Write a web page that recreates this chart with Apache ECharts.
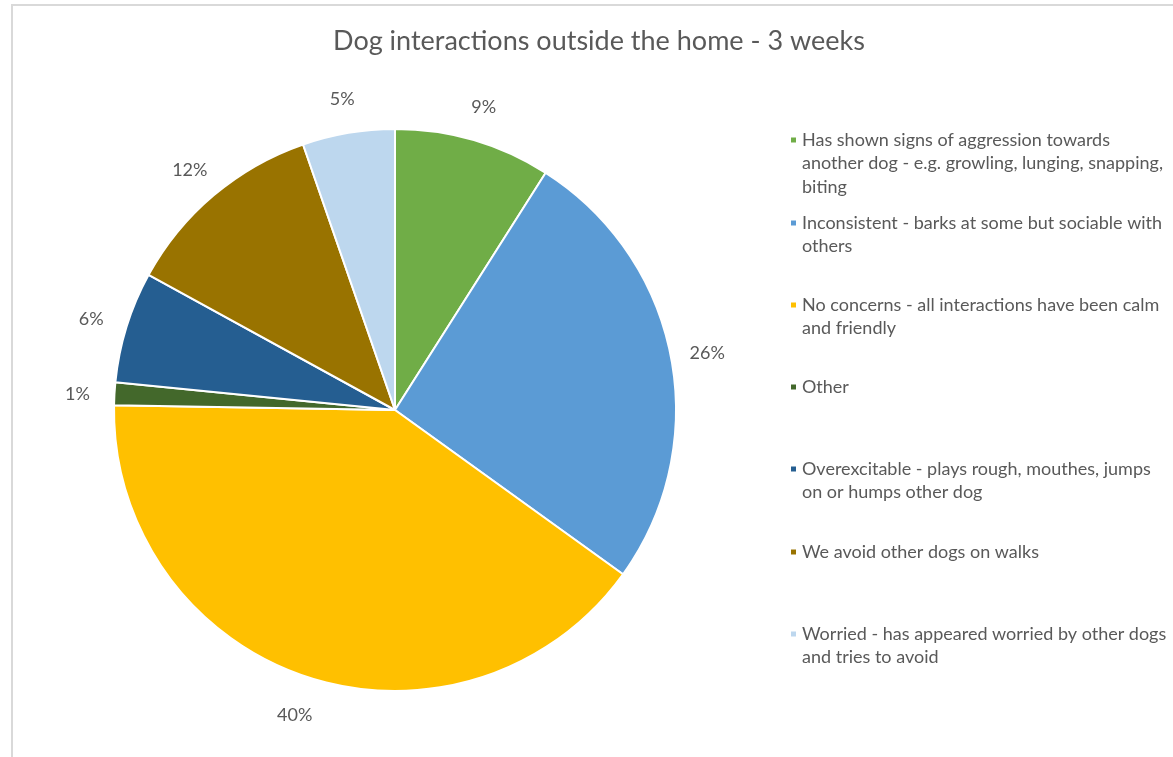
<!DOCTYPE html>
<html>
<head>
<meta charset="utf-8">
<script src="https://cdn.jsdelivr.net/npm/echarts@6/dist/echarts.min.js"></script>
<style>
  html, body { margin: 0; padding: 0; background: #fff; }
  #chart { width: 1173px; height: 757px; }
</style>
</head>
<body>
<div id="chart"></div>
<script>
// slices, clockwise from 12 o'clock (same order as the legend)
const categories = [
  'Has shown signs of aggression towards another dog - e.g. growling, lunging, snapping, biting',
  'Inconsistent - barks at some but sociable with others',
  'No concerns - all interactions have been calm and friendly',
  'Other',
  'Overexcitable - plays rough, mouthes, jumps on or humps other dog',
  'We avoid other dogs on walks',
  'Worried - has appeared worried by other dogs and tries to avoid'
];

// legend text as it wraps in the picture
const legendLines = [
  ['Has shown signs of aggression towards', 'another dog - e.g. growling, lunging, snapping,', 'biting'],
  ['Inconsistent - barks at some but sociable with', 'others'],
  ['No concerns - all interactions have been calm', 'and friendly'],
  ['Other'],
  ['Overexcitable - plays rough, mouthes, jumps', 'on or humps other dog'],
  ['We avoid other dogs on walks'],
  ['Worried - has appeared worried by other dogs', 'and tries to avoid']
];

// share of answers (%)
const shares = [9.0, 25.9, 40.3, 1.3, 6.4, 11.7, 5.3];

const sliceColors = ['#70AD47', '#5B9BD5', '#FFC000', '#43682B', '#255E91', '#997300', '#BDD7EE'];

const FONT = 'Lato, "Liberation Sans", sans-serif';
const TEXT = '#595959';
const CX = 395, CY = 410, R = 281;

// legend: one block per entry, marker level with the first line
const legendIconY = [140, 223, 305, 387, 469, 552, 634];
const LH = 23.5;
const legends = categories.map(function (name, i) {
  const n = legendLines[i].length;
  return {
    data: [name],
    left: 789,
    top: legendIconY[i] - (2 * n - 1) * LH / 2,
    padding: 0,
    icon: 'rect',
    itemWidth: 7,
    itemHeight: 7,
    selectedMode: false,
    formatter: function () {
      // pad with empty lines above so the marker sits on line 1
      return '\n'.repeat(n - 1) + legendLines[i].join('\n');
    },
    textStyle: { fontFamily: FONT, fontSize: 18, color: TEXT, lineHeight: LH }
  };
});

const pieData = categories.map(function (name, i) {
  return { name: name, value: shares[i], itemStyle: { color: sliceColors[i] } };
});

const chart = echarts.init(document.getElementById('chart'), null, { renderer: 'canvas' });

chart.setOption({
  animation: false,
  backgroundColor: '#fff',
  title: {
    text: 'Dog interactions outside the home - 3 weeks',
    left: 599,
    top: 28,
    padding: 0,
    textAlign: 'center',
    textStyle: { fontFamily: FONT, fontSize: 27, fontWeight: 'normal', color: TEXT }
  },
  graphic: [{
    type: 'rect',
    silent: true,
    shape: { x: 12, y: 5, width: 1300, height: 900 },
    style: { fill: null, stroke: '#d9d9d9', lineWidth: 2 }
  }],
  legend: legends,
  series: [
    {
      type: 'pie',
      center: [CX, CY],
      radius: R,
      startAngle: 90,
      clockwise: true,
      silent: true,
      itemStyle: { borderColor: '#fff', borderWidth: 2 },
      label: { show: false },
      labelLine: { show: false },
      data: pieData
    },
    {
      // ring just outside the pie, only used to place the % labels
      type: 'pie',
      center: [CX, CY + 3],
      radius: [298, 332],
      startAngle: 90,
      clockwise: true,
      silent: true,
      itemStyle: { color: 'rgba(0,0,0,0)', borderWidth: 0 },
      label: {
        show: true,
        position: 'inside',
        fontFamily: FONT,
        fontSize: 18,
        color: TEXT,
        formatter: function (p) { return Math.round(p.percent) + '%'; }
      },
      labelLine: { show: false },
      data: categories.map(function (name, i) { return { name: name, value: shares[i] }; })
    }
  ]
});
</script>
</body>
</html>
